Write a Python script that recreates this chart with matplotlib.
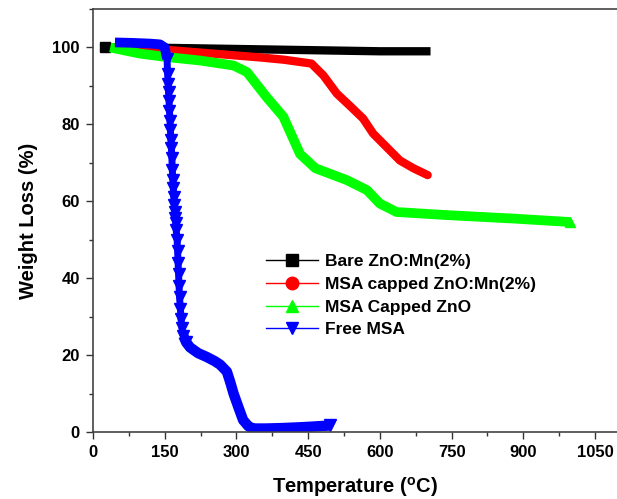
"""TGA curves: bare vs MSA capped ZnO:Mn, capped ZnO and free MSA."""
import matplotlib
matplotlib.use("Agg")
import matplotlib.pyplot as plt
from matplotlib.lines import Line2D
from matplotlib.ticker import MultipleLocator

plt.rcParams["font.family"] = ["Liberation Sans", "DejaVu Sans"]
plt.rcParams["font.weight"] = "bold"
plt.rcParams["mathtext.fontset"] = "custom"
plt.rcParams["mathtext.rm"] = "Liberation Sans:bold"
plt.rcParams["mathtext.bf"] = "Liberation Sans:bold"

# --- data (temperature in C, weight %) ---
bare_t = [25, 50, 100, 150, 200, 250, 300, 350, 400, 450, 500, 550, 600, 650, 706]
bare_w = [100, 100, 100, 99.9, 99.8, 99.7, 99.6, 99.5, 99.4, 99.3, 99.2, 99.1, 99.0, 99.0, 99.0]

mn_t = [50, 100, 150, 200, 250, 300, 350, 400, 457, 482, 510, 540, 565, 586, 614, 642, 670, 700]
mn_w = [100, 99.8, 99.4, 98.9, 98.4, 97.9, 97.4, 96.8, 95.8, 92.7, 88.0, 84.5, 81.5, 77.6,
        74.1, 70.6, 68.6, 66.8]

zno_t = [36, 98, 154, 224, 294, 322, 363, 398, 433, 465, 531, 573, 600, 635, 740, 879, 998]
zno_w = [100, 98.4, 97.5, 96.6, 95.3, 93.6, 87.1, 82.0, 72.3, 68.6, 65.5, 62.9, 59.4, 57.2,
         56.4, 55.5, 54.6]

msa_t = [46, 80, 120, 140, 150, 155,
         156, 157, 158, 159, 160, 161, 162, 163, 164, 165, 166, 167, 168, 169, 170, 171, 172,
         173, 174, 176, 177, 178, 179, 180, 181, 183, 184, 186, 189, 195, 203, 220, 238, 255,
         266, 280, 287, 294, 304, 314, 325, 335, 360, 392, 430, 460, 496]
msa_w = [101.3, 101.2, 101.0, 100.8, 100.0, 97.0,
         93.2, 90.6, 88.3, 86.2, 83.6, 81.0, 78.4, 75.8, 73.8, 71.2, 68.0, 65.5, 63.4, 61.0,
         59.0, 57.1, 55.6, 54.3, 52.5, 50.0, 47.0, 44.0, 41.0, 38.0, 35.0, 32.0, 29.5, 27.0,
         25.0, 23.3, 22.0, 20.5, 19.5, 18.4, 17.5, 15.7, 13.0, 10.0, 6.5, 3.1, 1.5, 0.9, 0.9,
         1.0, 1.2, 1.4, 1.7]

labels = ["Bare ZnO:Mn(2%)", "MSA capped ZnO:Mn(2%)", "MSA Capped ZnO", "Free MSA"]
colors = ["#000000", "#ff0000", "#00ff00", "#0000ff"]
markers = ["s", "o", "^", "v"]

fig = plt.figure(figsize=(6.17, 4.99), dpi=100)
ax = fig.add_axes([0.1507, 0.1343, 0.8493, 0.8477])

# dense markers in the original merge into a thick band; draw that band
ax.plot(bare_t, bare_w, "-", color=colors[0], lw=6, solid_capstyle="butt",
        marker="s", ms=7, markevery=[0])
ax.plot(mn_t, mn_w, "-", color=colors[1], lw=6, solid_capstyle="round",
        solid_joinstyle="round")
ax.plot(zno_t, zno_w, "-", color=colors[2], lw=7, solid_capstyle="butt",
        solid_joinstyle="round", marker="^", ms=7, markevery=[-1])
ax.plot(msa_t, msa_w, "-", color=colors[3], lw=5, solid_capstyle="butt",
        solid_joinstyle="round")
steep = list(range(5, 36)) + [len(msa_t) - 1]
ax.plot(msa_t, msa_w, ls="none", color=colors[3], marker="v", ms=8,
        markevery=steep)
ax.plot(msa_t[34:], msa_w[34:], "-", color=colors[3], lw=7.5, solid_capstyle="butt",
        solid_joinstyle="round")
ax.plot(msa_t[:6], msa_w[:6], "-", color=colors[3], lw=7, solid_capstyle="butt",
        solid_joinstyle="round")

ax.set_xlim(0, 1096)
ax.set_ylim(0, 110)
ax.xaxis.set_major_locator(MultipleLocator(150))
ax.xaxis.set_minor_locator(MultipleLocator(75))
ax.yaxis.set_major_locator(MultipleLocator(20))
ax.yaxis.set_minor_locator(MultipleLocator(10))
ax.tick_params(which="major", direction="out", length=5, width=1, labelsize=12,
               color="#333333", pad=4.5)
ax.tick_params(which="minor", direction="out", length=3, width=1, color="#333333")
ax.tick_params(top=False, right=False)

for s in ("left", "bottom", "top"):
    ax.spines[s].set_color("#444444")
    ax.spines[s].set_linewidth(1.2)
ax.spines["right"].set_visible(False)

ax.set_xlabel(r"Temperature ($^{\mathrm{o}}$C)", fontsize=14.5, fontweight="bold", labelpad=11)
ax.set_ylabel("Weight Loss (%)", fontsize=14.5, fontweight="bold", labelpad=10)

handles = [Line2D([], [], color=c, lw=1, marker=m, ms=9, mec=c, mfc=c)
           for c, m in zip(colors, markers)]
ax.legend(handles, labels, loc="upper left", bbox_to_anchor=(0.3295, 0.421),
          frameon=False, fontsize=12.5, handlelength=3.0, handletextpad=0.4,
          labelspacing=0.44, borderpad=0, borderaxespad=0)

fig.savefig("out.png", dpi=100)
